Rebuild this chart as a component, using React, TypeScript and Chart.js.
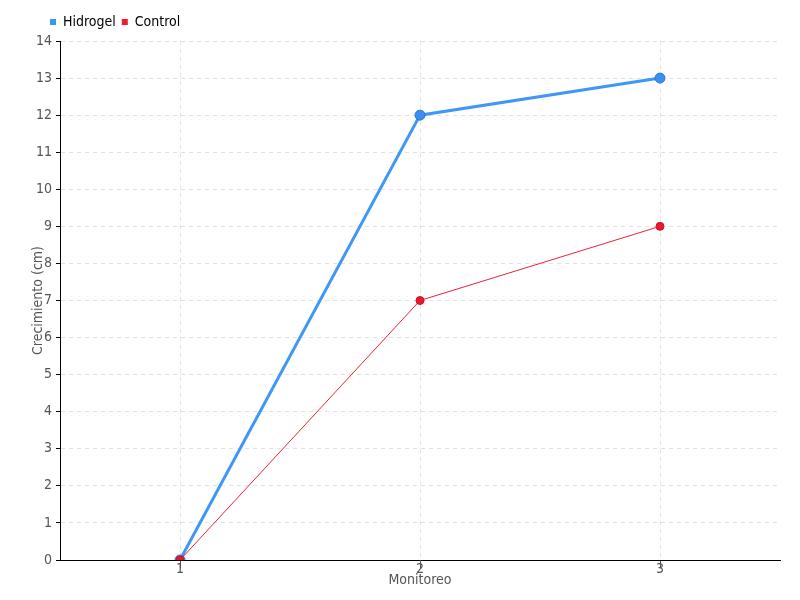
import React, { useEffect, useRef } from "react";
import { Chart, registerables } from "chart.js";

Chart.register(...registerables);

const categories = ["1", "2", "3"];
const hidrogel = [0, 12, 13];
const control = [0, 7, 9];
const seriesNames = ["Hidrogel", "Control"];
const xTitle = "Monitoreo";
const yTitle = "Crecimiento (cm)";

const FONT = "'DejaVu Sans Condensed', 'DejaVu Sans', sans-serif";

export default function App() {
  const ref = useRef<HTMLCanvasElement | null>(null);
  useEffect(() => {
    document.body.style.margin = "0";
    const ctx = ref.current!;
    const shiftLegend = {
      id: "shiftLegend",
      afterLayout(chart: any) {
        if (chart.legend) {
          chart.legend.left = 44;
          chart.legend.top = chart.legend.top - 2;
        }
      },
    };
    const chart = new Chart(ctx, {
      type: "line",
      data: {
        labels: categories,
        datasets: [
          {
            label: seriesNames[0],
            data: hidrogel,
            borderColor: "#4097f7",
            backgroundColor: "#3b95f7",
            pointBackgroundColor: "#3b8ff0",
            pointBorderColor: "#2b78d0",
            borderWidth: 3,
            pointRadius: 5,
            pointBorderWidth: 1,
            order: 1,
          },
          {
            label: seriesNames[1],
            data: control,
            borderColor: "#ee2233",
            backgroundColor: "#ee1c2e",
            pointBackgroundColor: "#e8192c",
            pointBorderColor: "#d01020",
            borderWidth: 1,
            pointRadius: 4,
            pointBorderWidth: 1,
            order: 0,
          },
        ],
      },
      options: {
        animation: false,
        responsive: false,
        layout: { padding: { top: 11, left: 0, right: 20, bottom: 0 } },
        plugins: {
          legend: {
            position: "top",
            align: "start",
            labels: {
              boxWidth: 6,
              boxHeight: 6,
              padding: 6,
              color: "#444",
              font: { family: FONT, size: 14 },
              generateLabels: (chart: any) =>
                chart.data.datasets.map((d: any, i: number) => ({
                  text: d.label,
                  fillStyle: d.backgroundColor,
                  strokeStyle: d.backgroundColor,
                  lineWidth: 0,
                  datasetIndex: i,
                  hidden: false,
                })),
            },
          },
          tooltip: { enabled: false },
        },
        scales: {
          x: {
            type: "category",
            offset: true,
            grid: {
              offset: false,
              color: "#e2e2e2",
              tickColor: "#555",
              tickLength: 8,
              tickBorderDash: [],
            },
            border: { color: "#000", width: 1, dash: [4, 4] },
            ticks: {
              color: "#555",
              padding: -7,
              font: { family: FONT, size: 14 },
              maxRotation: 0,
            },
            title: {
              display: true,
              text: xTitle,
              color: "#555",
              font: { family: FONT, size: 14 },
              padding: { top: 0, bottom: 11 },
            },
            afterFit: (s: any) => {
              s.height = 40;
            },
          },
          y: {
            min: 0,
            max: 14,
            grid: {
              color: "#e2e2e2",
              tickColor: "#000",
              tickLength: 4,
              tickBorderDash: [],
            },
            border: { color: "#000", width: 1, dash: [4, 4] },
            ticks: {
              stepSize: 1,
              color: "#555",
              padding: 4,
              font: { family: FONT, size: 14 },
            },
            title: {
              display: true,
              text: yTitle,
              color: "#555",
              font: { family: FONT, size: 14 },
              padding: { top: 30, bottom: 0 },
            },
            afterFit: (s: any) => {
              s.width = 60;
            },
          },
        },
      },
      plugins: [shiftLegend],
    } as any);
    return () => chart.destroy();
  }, []);
  return (
    <div style={{ position: "absolute", left: 0, top: 0, width: 800, height: 600 }}>
      <canvas ref={ref} width={800} height={600} />
    </div>
  );
}
